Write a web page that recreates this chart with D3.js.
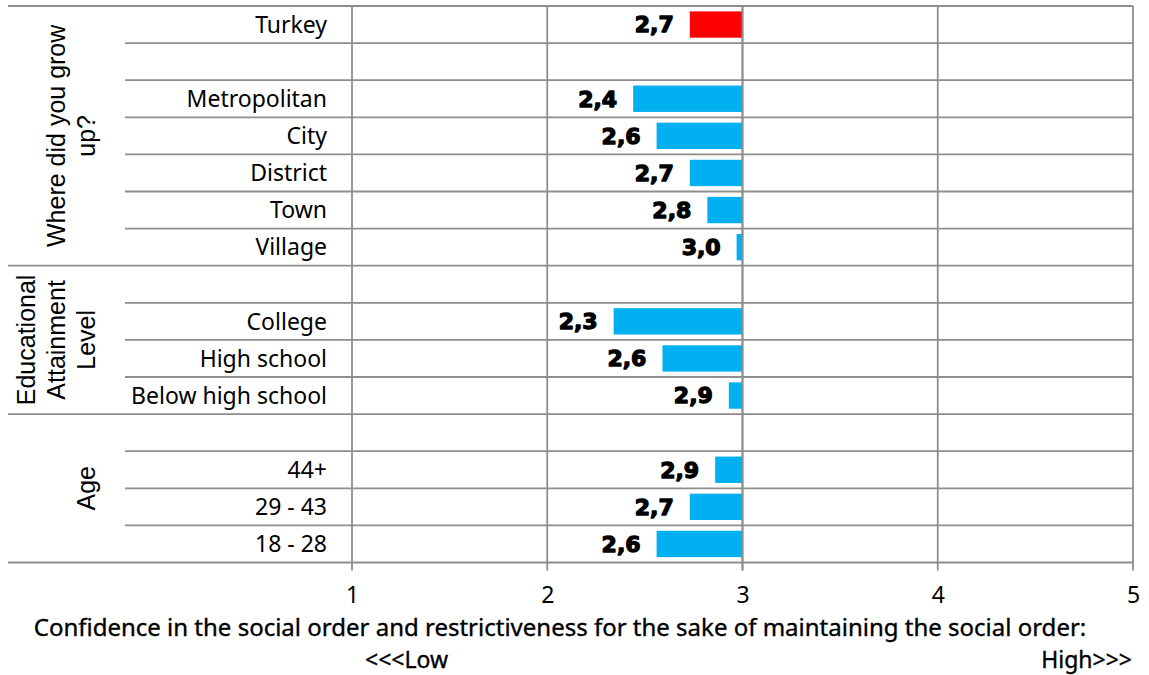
<!DOCTYPE html>
<html>
<head>
<meta charset="utf-8">
<script src="https://cdn.jsdelivr.net/npm/d3@7"></script>
<style>
  html, body { margin: 0; padding: 0; background: #fff; }
  svg { display: block; }
</style>
</head>
<body>
<svg id="chart" width="1149" height="675"></svg>
<script>
// Row labels, top to bottom (empty strings are spacer rows between groups)
const rowLabels = ["Turkey", "", "Metropolitan", "City", "District", "Town", "Village",
                   "", "College", "High school", "Below high school",
                   "", "44+", "29 - 43", "18 - 28"];
// Mean scores on the 1–5 scale (null = spacer row)
const rowValues = [2.73, null, 2.44, 2.56, 2.73, 2.82, 2.97,
                   null, 2.34, 2.59, 2.93,
                   null, 2.86, 2.73, 2.56];
// Which row is the national total
const totalRow = "Turkey";
// Grouping of rows: label lines plus first/last row index
const groupLabels = [["Where did you grow", "up?"], ["Educational", "Attainment", "Level"], ["Age"]];
const groupFirstRow = [0, 7, 11];
const groupLastRow = [6, 10, 14];
// Axis
const xTicks = [1, 2, 3, 4, 5];
const xDomain = [1, 5];
const baselineValue = 3;
const axisTitle = "Confidence in the social order and restrictiveness for the sake of maintaining the social order:";
const lowLabel = "<<<Low";
const highLabel = "High>>>";

const svg = d3.select("#chart");
const gridColor = "#8e8e8e";
const labelFont = "'Noto Sans', sans-serif";
const groupFont = "'Liberation Sans', Arial, sans-serif";
const valueFont = "'DejaVu Sans', sans-serif";

const plotLeft = 352, plotRight = 1133, plotTop = 6, plotBottom = 562.5;
const catLineLeft = 125, groupLineLeft = 8;

const x = d3.scaleLinear().domain(xDomain).range([plotLeft, plotRight]);
const rows = rowLabels.map((label, i) => ({ i, label, value: rowValues[i] }));
const y = d3.scaleBand()
  .domain(rows.map(d => d.i))
  .range([plotTop, plotBottom])
  .paddingInner(0.29)
  .paddingOuter(0.145);
const step = y.step();
const rowTop = i => plotTop + i * step;

// Horizontal row separators: short ones for categories, long ones at group bounds
const groupBounds = new Set([0, ...groupLastRow.map(r => r + 1)]);
const lineIdx = d3.range(rows.length + 1);
svg.append("g").selectAll("line")
  .data(lineIdx)
  .join("line")
  .attr("x1", k => groupBounds.has(k) ? groupLineLeft : catLineLeft)
  .attr("x2", plotRight)
  .attr("y1", k => rowTop(k))
  .attr("y2", k => rowTop(k))
  .attr("stroke", gridColor)
  .attr("stroke-width", 1.8);

// Vertical gridlines at each tick, plus small ticks below the axis
svg.append("g").selectAll("line")
  .data(xTicks)
  .join("line")
  .attr("x1", d => x(d)).attr("x2", d => x(d))
  .attr("y1", plotTop).attr("y2", plotBottom + 8)
  .attr("stroke", gridColor)
  .attr("stroke-width", 1.8);

// Tick labels via d3 axis
const xAxis = d3.axisBottom(x).tickValues(xTicks).tickSize(0).tickPadding(0).tickFormat(d3.format("d"));
const axisG = svg.append("g").attr("transform", `translate(0,${plotBottom})`).call(xAxis);
axisG.select(".domain").remove();
axisG.selectAll("text")
  .attr("y", 40)
  .attr("dy", 0)
  .attr("fill", "#000")
  .style("font-family", labelFont)
  .style("font-size", "23px");

// Bars from the baseline (3) to each value
const barRows = rows.filter(d => d.value != null);
svg.append("g").selectAll("rect")
  .data(barRows)
  .join("rect")
  .attr("x", d => Math.min(x(d.value), x(baselineValue)))
  .attr("width", d => Math.abs(x(baselineValue) - x(d.value)))
  .attr("y", d => y(d.i))
  .attr("height", y.bandwidth())
  .attr("fill", d => d.label === totalRow ? "#FF0000" : "#00B0F0");

// Redraw the baseline gridline over the bars
svg.append("line")
  .attr("x1", x(baselineValue)).attr("x2", x(baselineValue))
  .attr("y1", plotTop).attr("y2", plotBottom + 8)
  .attr("stroke", gridColor).attr("stroke-width", 1.8);

// Value labels (comma decimal)
const fmt = v => d3.format(".1f")(v).replace(".", ",");
svg.append("g").selectAll("text")
  .data(barRows)
  .join("text")
  .attr("x", d => x(d.value) - 16)
  .attr("y", d => y(d.i) + y.bandwidth() / 2)
  .attr("dy", "0.36em")
  .attr("text-anchor", "end")
  .style("font-family", valueFont)
  .style("font-weight", "bold")
  .style("font-size", "22px")
  .attr("stroke", "#000")
  .attr("stroke-width", 1.3)
  .attr("stroke-linejoin", "round")
  .attr("fill", "#000")
  .text(d => fmt(d.value));

// Category labels
svg.append("g").selectAll("text")
  .data(rows.filter(d => d.label))
  .join("text")
  .attr("x", 327)
  .attr("y", d => rowTop(d.i) + step / 2)
  .attr("dy", "0.36em")
  .attr("text-anchor", "end")
  .style("font-family", labelFont)
  .style("font-size", "23px")
  .attr("fill", "#000")
  .text(d => d.label);

// Group labels, rotated; last line baseline sits at the same x in every group
const groups = groupLabels.map((lines, g) => ({
  lines,
  cy: (rowTop(groupFirstRow[g]) + rowTop(groupLastRow[g] + 1)) / 2
}));
const lineGap = 30, lastBaseline = 95;
groups.forEach(gr => {
  gr.lines.forEach((line, k) => {
    const bx = lastBaseline - (gr.lines.length - 1 - k) * lineGap;
    svg.append("text")
      .attr("transform", `translate(${bx},${gr.cy}) rotate(-90)`)
      .attr("text-anchor", "middle")
      .style("font-family", groupFont)
      .style("font-size", "25px")
      .attr("fill", "#000")
      .text(line);
  });
});

// Axis title and direction hints
const titleStyle = (sel, size) => sel
  .style("font-family", labelFont)
  .style("font-size", size + "px")
  .attr("fill", "#000")
  .attr("stroke", "#000")
  .attr("stroke-width", 0.35);
svg.append("text")
  .attr("x", 560).attr("y", 636)
  .attr("text-anchor", "middle")
  .call(titleStyle, 24)
  .text(axisTitle);
svg.append("text")
  .attr("x", 365).attr("y", 668)
  .attr("text-anchor", "start")
  .call(titleStyle, 23)
  .text(lowLabel);
svg.append("text")
  .attr("x", 1132).attr("y", 668)
  .attr("text-anchor", "end")
  .call(titleStyle, 23)
  .text(highLabel);
</script>
</body>
</html>
